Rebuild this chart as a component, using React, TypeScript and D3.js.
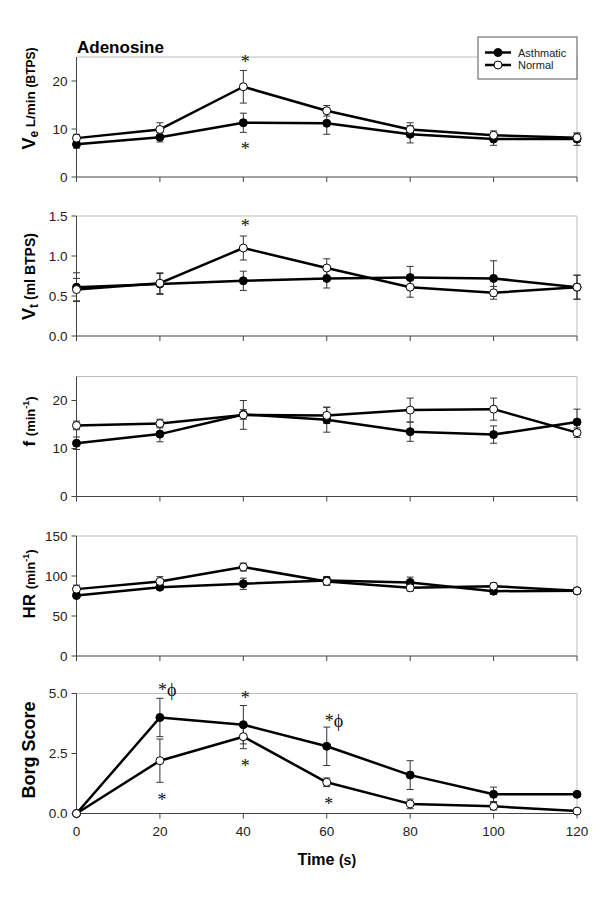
import React from "react";
import * as d3 from "d3";

// ---------- data ----------
const times = [0, 20, 40, 60, 80, 100, 120];
const xTickLabels = ["0", "20", "40", "60", "80", "100", "120"];

const veAsthmatic = [6.8, 8.3, 11.3, 11.2, 8.9, 7.9, 7.9];
const veAsthmaticErr = [0.8, 1.0, 2.0, 2.3, 1.8, 1.3, 1.3];
const veNormal = [8.1, 9.9, 18.8, 13.8, 9.9, 8.7, 8.2];
const veNormalErr = [0.8, 1.4, 3.4, 1.1, 1.4, 0.9, 0.8];
const veTicks = [0, 10, 20];
const veTickLabels = ["0", "10", "20"];

const vtAsthmatic = [0.61, 0.65, 0.69, 0.72, 0.73, 0.72, 0.61];
const vtAsthmaticErr = [0.18, 0.13, 0.12, 0.12, 0.14, 0.22, 0.15];
const vtNormal = [0.58, 0.66, 1.1, 0.85, 0.61, 0.54, 0.61];
const vtNormalErr = [0.14, 0.13, 0.15, 0.115, 0.125, 0.08, 0.15];
const vtTicks = [0, 0.5, 1.0, 1.5];
const vtTickLabels = ["0.0", "0.5", "1.0", "1.5"];

const fAsthmatic = [11.1, 13.0, 17.1, 16.0, 13.5, 12.9, 15.5];
const fAsthmaticErr = [1.3, 1.6, 1.0, 2.6, 2.0, 1.8, 2.7];
const fNormal = [14.8, 15.2, 17.0, 16.9, 18.0, 18.2, 13.3];
const fNormalErr = [0.9, 0.9, 3.0, 1.7, 2.5, 2.3, 1.0];
const fTicks = [0, 10, 20];
const fTickLabels = ["0", "10", "20"];

const hrAsthmatic = [75.6, 86, 90.3, 94.4, 92, 81, 81.5];
const hrAsthmaticErr = [3, 3, 7, 5, 6.6, 4, 3];
const hrNormal = [83.6, 93.2, 111.2, 93.2, 85.2, 87.3, 81.5];
const hrNormalErr = [5, 6, 5, 5, 4, 4, 3];
const hrTicks = [0, 50, 100, 150];
const hrTickLabels = ["0", "50", "100", "150"];

const borgAsthmatic = [0, 4.0, 3.7, 2.8, 1.6, 0.8, 0.8];
const borgAsthmaticErr = [0, 0.8, 0.8, 0.8, 0.6, 0.3, 0.05];
const borgNormal = [0, 2.2, 3.2, 1.3, 0.4, 0.3, 0.1];
const borgNormalErr = [0, 0.9, 0.5, 0.18, 0.2, 0.15, 0.05];
const borgTicks = [0, 2.5, 5.0];
const borgTickLabels = ["0.0", "2.5", "5.0"];

// annotations: [time, value at glyph centre, text]
const veMarks: [number, number, string][] = [[40, 24.4, "*"], [40, 6.3, "*"]];
const vtMarks: [number, number, string][] = [[40, 1.41, "*"]];
const borgMarks: [number, number, string][] = [
  [20, 5.25, "*ϕ"], [40, 4.93, "*"], [60, 3.97, "*ϕ"],
  [20, 0.67, "*"], [40, 2.09, "*"], [60, 0.5, "*"],
];

const seriesNames = ["Asthmatic", "Normal"];

// ---------- layout ----------
const W = 600;
const Hsvg = 899;
const L = 76.5;
const R = 577;
const PH = 120;
const tops = [57, 216, 376.5, 536, 693.5];
const SANS = "'Liberation Sans', Arial, sans-serif";
const SERIF = "'Liberation Serif', 'DejaVu Serif', serif";

type Cfg = {
  max: number;
  ticks: number[];
  tickLabels: string[];
  a: number[];
  aErr: number[];
  n: number[];
  nErr: number[];
  marks: [number, number, string][];
  label: React.ReactNode;
  labelY: number;
};

const x = d3.scaleLinear().domain([0, 120]).range([L, R]);

function ErrBars({ vals, errs, y }: { vals: number[]; errs: number[]; y: d3.ScaleLinear<number, number> }) {
  return (
    <g stroke="#333" strokeWidth={1}>
      {vals.map((v, i) => {
        const e = errs[i];
        if (!e) return null;
        const cx = x(times[i]);
        const y1 = y(v + e);
        const y2 = y(v - e);
        return (
          <g key={i}>
            <line x1={cx} x2={cx} y1={y1} y2={y2} />
            <line x1={cx - 3.5} x2={cx + 3.5} y1={y1} y2={y1} />
            <line x1={cx - 3.5} x2={cx + 3.5} y1={y2} y2={y2} />
          </g>
        );
      })}
    </g>
  );
}

function Panel({ cfg, top, last }: { cfg: Cfg; top: number; last: boolean }) {
  const y = d3.scaleLinear().domain([0, cfg.max]).range([top + PH, top]);
  const line = d3
    .line<number>()
    .x((_, i) => x(times[i]))
    .y((d) => y(d));
  const bottom = top + PH;
  return (
    <g>
      <line x1={L} x2={R} y1={top} y2={top} stroke="#bdbdbd" strokeWidth={1} />
      <line x1={R} x2={R} y1={top} y2={bottom} stroke="#bdbdbd" strokeWidth={1} />
      <line x1={L} x2={L} y1={top} y2={bottom} stroke="#444" strokeWidth={1} />
      <line x1={L} x2={R} y1={bottom} y2={bottom} stroke="#444" strokeWidth={1} />
      {cfg.ticks.map((t, i) => (
        <g key={i}>
          <line x1={L - 5} x2={L} y1={y(t)} y2={y(t)} stroke="#444" />
          <text x={L - 9} y={y(t) + 4.8} textAnchor="end" fontFamily={SANS} fontSize={13.5} fill="#222">
            {cfg.tickLabels[i]}
          </text>
        </g>
      ))}
      {times.map((t, i) => (
        <g key={i}>
          <line x1={x(t)} x2={x(t)} y1={bottom} y2={bottom + 5} stroke="#444" />
          {last && (
            <text x={x(t)} y={bottom + 22} textAnchor="middle" fontFamily={SANS} fontSize={13.5} fill="#222">
              {xTickLabels[i]}
            </text>
          )}
        </g>
      ))}
      <ErrBars vals={cfg.a} errs={cfg.aErr} y={y} />
      <ErrBars vals={cfg.n} errs={cfg.nErr} y={y} />
      <path d={line(cfg.a) || ""} fill="none" stroke="#000" strokeWidth={2.5} strokeLinejoin="round" />
      <path d={line(cfg.n) || ""} fill="none" stroke="#000" strokeWidth={2.5} strokeLinejoin="round" />
      {cfg.a.map((v, i) => (
        <circle key={"a" + i} cx={x(times[i])} cy={y(v)} r={4} fill="#000" stroke="#000" strokeWidth={1} />
      ))}
      {cfg.n.map((v, i) => (
        <circle key={"n" + i} cx={x(times[i])} cy={y(v)} r={4} fill="#fff" stroke="#000" strokeWidth={1} />
      ))}
      {cfg.marks.map(([t, v, s], i) => (
        <text
          key={"m" + i}
          x={s.length > 1 ? x(t) - 2 : x(t) + 2}
          y={y(v) + 8.5}
          textAnchor={s.length > 1 ? "start" : "middle"}
          fontFamily={SERIF}
          fontSize={18}
          fill="#111"
        >
          {s}
        </text>
      ))}
      <text
        transform={`translate(35,${cfg.labelY}) rotate(-90)`}
        textAnchor="middle"
        fontFamily={SANS}
        fontWeight="bold"
        fill="#000"
      >
        {cfg.label}
      </text>
    </g>
  );
}

export default function App() {
  const cfgs: Cfg[] = [
    {
      max: 25, ticks: veTicks, tickLabels: veTickLabels, a: veAsthmatic, aErr: veAsthmaticErr,
      n: veNormal, nErr: veNormalErr, marks: veMarks, labelY: 98.5,
      label: (
        <>
          <tspan fontSize={18}>V</tspan>
          <tspan fontSize={12} dy={3}>e</tspan>
          <tspan fontSize={13.5} dy={-3}> L/min </tspan>
          <tspan fontSize={12}>(BTPS)</tspan>
        </>
      ),
    },
    {
      max: 1.5, ticks: vtTicks, tickLabels: vtTickLabels, a: vtAsthmatic, aErr: vtAsthmaticErr,
      n: vtNormal, nErr: vtNormalErr, marks: vtMarks, labelY: 276.5,
      label: (
        <>
          <tspan fontSize={18}>V</tspan>
          <tspan fontSize={12} dy={3}>t</tspan>
          <tspan fontSize={14} dy={-3}> (ml BTPS)</tspan>
        </>
      ),
    },
    {
      max: 25, ticks: fTicks, tickLabels: fTickLabels, a: fAsthmatic, aErr: fAsthmaticErr,
      n: fNormal, nErr: fNormalErr, marks: [], labelY: 421.5,
      label: (
        <>
          <tspan fontSize={17}>f </tspan>
          <tspan fontSize={13}>(min</tspan>
          <tspan fontSize={9} dy={-6}>-1</tspan>
          <tspan fontSize={13} dy={6}>)</tspan>
        </>
      ),
    },
    {
      max: 150, ticks: hrTicks, tickLabels: hrTickLabels, a: hrAsthmatic, aErr: hrAsthmaticErr,
      n: hrNormal, nErr: hrNormalErr, marks: [], labelY: 584,
      label: (
        <>
          <tspan fontSize={17}>HR </tspan>
          <tspan fontSize={13}>(min</tspan>
          <tspan fontSize={9} dy={-6}>-1</tspan>
          <tspan fontSize={13} dy={6}>)</tspan>
        </>
      ),
    },
    {
      max: 5, ticks: borgTicks, tickLabels: borgTickLabels, a: borgAsthmatic, aErr: borgAsthmaticErr,
      n: borgNormal, nErr: borgNormalErr, marks: borgMarks, labelY: 750,
      label: <tspan fontSize={18}>Borg Score</tspan>,
    },
  ];

  const legX = 478;
  const legY = 37;
  return (
    <svg width={W} height={Hsvg} style={{ position: "absolute", left: 0, top: 0, background: "#fff" }}>
      <rect x={0} y={0} width={W} height={Hsvg} fill="#fff" />
      {cfgs.map((c, i) => (
        <Panel key={i} cfg={c} top={tops[i]} last={i === cfgs.length - 1} />
      ))}
      <text x={77} y={53} fontFamily={SANS} fontWeight="bold" fontSize={17} fill="#000">
        Adenosine
      </text>
      <rect x={legX} y={legY} width={R - legX} height={42} fill="#fff" stroke="#555" strokeWidth={1} />
      {seriesNames.map((s, i) => {
        const ly = legY + 15.5 + i * 12.5;
        return (
          <g key={s}>
            <line x1={legX + 7} x2={legX + 33} y1={ly} y2={ly} stroke="#000" strokeWidth={2.5} />
            <circle cx={legX + 20} cy={ly} r={4} fill={i === 0 ? "#000" : "#fff"} stroke="#000" />
            <text x={legX + 40} y={ly + 4} fontFamily={SANS} fontSize={11} fill="#222">
              {s}
            </text>
          </g>
        );
      })}
      <text x={(L + R) / 2} y={865} textAnchor="middle" fontFamily={SANS} fontWeight="bold" fill="#000">
        <tspan fontSize={16}>Time </tspan>
        <tspan fontSize={14}>(s)</tspan>
      </text>
    </svg>
  );
}
